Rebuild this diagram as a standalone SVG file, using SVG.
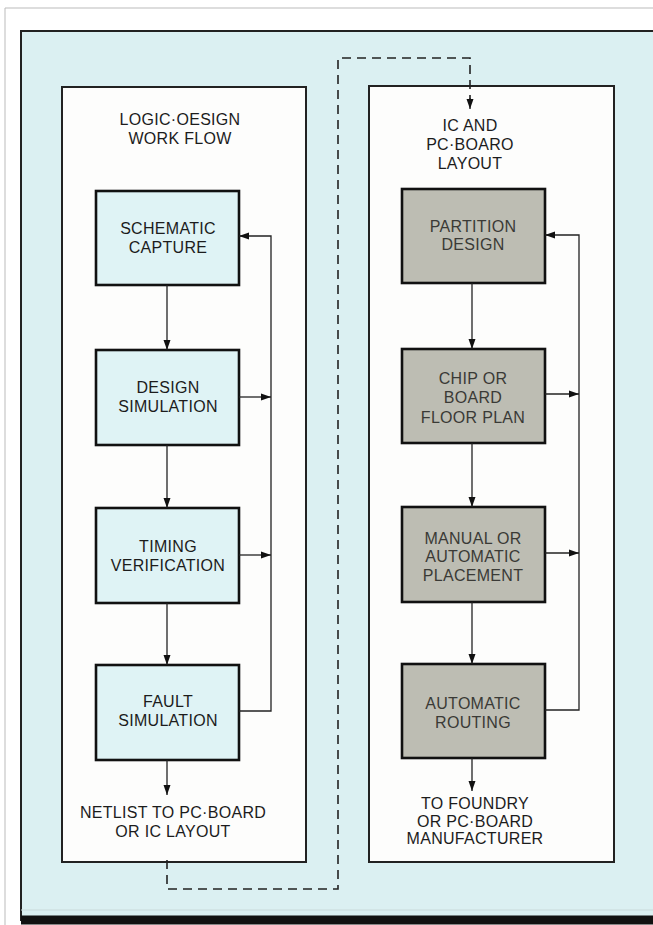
<svg xmlns="http://www.w3.org/2000/svg" width="653" height="925" viewBox="0 0 653 925">
<defs>
<style>
.t{font-family:"Liberation Sans",Arial,sans-serif;font-size:16px;letter-spacing:0.3px;text-anchor:middle;fill:#1c1c1c}
.tg{fill:#3a3a36}
.bb{fill:#dff3f5;stroke:#111;stroke-width:2.6}
.gb{fill:#bdbdb3;stroke:#111;stroke-width:2.6}
.wb{fill:#fdfdfc;stroke:#222;stroke-width:2}
.ln{fill:none;stroke:#222;stroke-width:1.3}
.ar{fill:none;stroke:#222;stroke-width:1.3;marker-end:url(#ah)}
.ds{fill:none;stroke:#222;stroke-width:1.6;stroke-dasharray:9 6}
</style>
<marker id="ah" markerUnits="userSpaceOnUse" markerWidth="10" markerHeight="10" viewBox="0 0 10 10" refX="10" refY="5" orient="auto">
<path d="M0,1.5 L10,5 L0,8.5 Z" fill="#111"/>
</marker>
</defs>
<rect x="0" y="0" width="653" height="925" fill="#ffffff"/>
<path d="M5,925 V8 H653" fill="none" stroke="#bbbbbb" stroke-width="1"/>
<rect id="panel" x="21" y="31" width="640" height="889" fill="#dbf0f2" stroke="#222" stroke-width="2"/>
<line x1="21" y1="920" x2="653" y2="920" stroke="#111" stroke-width="9"/>
<line x1="21" y1="910" x2="653" y2="910" stroke="#c9dadb" stroke-width="1"/>

<g id="left-panel">
<rect class="wb" x="62" y="87" width="244" height="775"/>
<text class="t" x="180" y="125">LOGIC·OESIGN</text>
<text class="t" x="180" y="144">WORK FLOW</text>
</g>
<g id="right-panel">
<rect class="wb" x="369" y="86" width="245" height="776"/>
<text class="t" x="470" y="131">IC AND</text>
<text class="t" x="470" y="150">PC·BOARO</text>
<text class="t" x="470" y="169">LAYOUT</text>
</g>

<g id="schematic-capture">
<rect class="bb" x="96" y="191" width="143" height="94"/>
<text class="t" x="168" y="234">SCHEMATIC</text>
<text class="t" x="168" y="253">CAPTURE</text>
</g>
<g id="design-simulation">
<rect class="bb" x="96" y="350" width="143" height="95"/>
<text class="t" x="168" y="393">DESIGN</text>
<text class="t" x="168" y="412">SIMULATION</text>
</g>
<g id="timing-verification">
<rect class="bb" x="96" y="508" width="143" height="95"/>
<text class="t" x="168" y="552">TIMING</text>
<text class="t" x="168" y="571">VERIFICATION</text>
</g>
<g id="fault-simulation">
<rect class="bb" x="96" y="665" width="143" height="95"/>
<text class="t" x="168" y="707">FAULT</text>
<text class="t" x="168" y="726">SIMULATION</text>
</g>
<g id="netlist">
<text class="t" x="173" y="818">NETLIST TO PC·BOARD</text>
<text class="t" x="173" y="837">OR IC LAYOUT</text>
</g>

<g id="partition-design">
<rect class="gb" x="402" y="189" width="143" height="94"/>
<text class="t tg" x="473" y="232">PARTITION</text>
<text class="t tg" x="473" y="250">DESIGN</text>
</g>
<g id="floor-plan">
<rect class="gb" x="402" y="349" width="143" height="94"/>
<text class="t tg" x="473" y="384">CHIP OR</text>
<text class="t tg" x="473" y="403">BOARD</text>
<text class="t tg" x="473" y="423">FLOOR PLAN</text>
</g>
<g id="placement">
<rect class="gb" x="402" y="507" width="143" height="95"/>
<text class="t tg" x="473" y="544">MANUAL OR</text>
<text class="t tg" x="473" y="562">AUTOMATIC</text>
<text class="t tg" x="473" y="581">PLACEMENT</text>
</g>
<g id="routing">
<rect class="gb" x="402" y="664" width="143" height="94"/>
<text class="t tg" x="473" y="709">AUTOMATIC</text>
<text class="t tg" x="473" y="728">ROUTING</text>
</g>
<g id="foundry">
<text class="t" x="475" y="809">TO FOUNDRY</text>
<text class="t" x="475" y="827">OR PC·BOARD</text>
<text class="t" x="475" y="844">MANUFACTURER</text>
</g>

<g id="connectors">
<path class="ar" d="M167,285 V350"/>
<path class="ar" d="M167,445 V508"/>
<path class="ar" d="M167,603 V665"/>
<path class="ar" d="M167,760 V795"/>
<path class="ar" d="M239,711 H271 V236 H239"/>
<path class="ar" d="M239,397 H271"/>
<path class="ar" d="M239,555 H271"/>
<path class="ar" d="M472,283 V349"/>
<path class="ar" d="M472,443 V507"/>
<path class="ar" d="M472,602 V664"/>
<path class="ar" d="M472,758 V791"/>
<path class="ar" d="M545,710 H579 V235 H545"/>
<path class="ar" d="M545,394 H579"/>
<path class="ar" d="M545,553 H579"/>
<path class="ds" d="M167,860 V889 H338 V58 H470 V100"/>
<path class="ar" d="M470,98 V109"/>
</g>
</svg>
